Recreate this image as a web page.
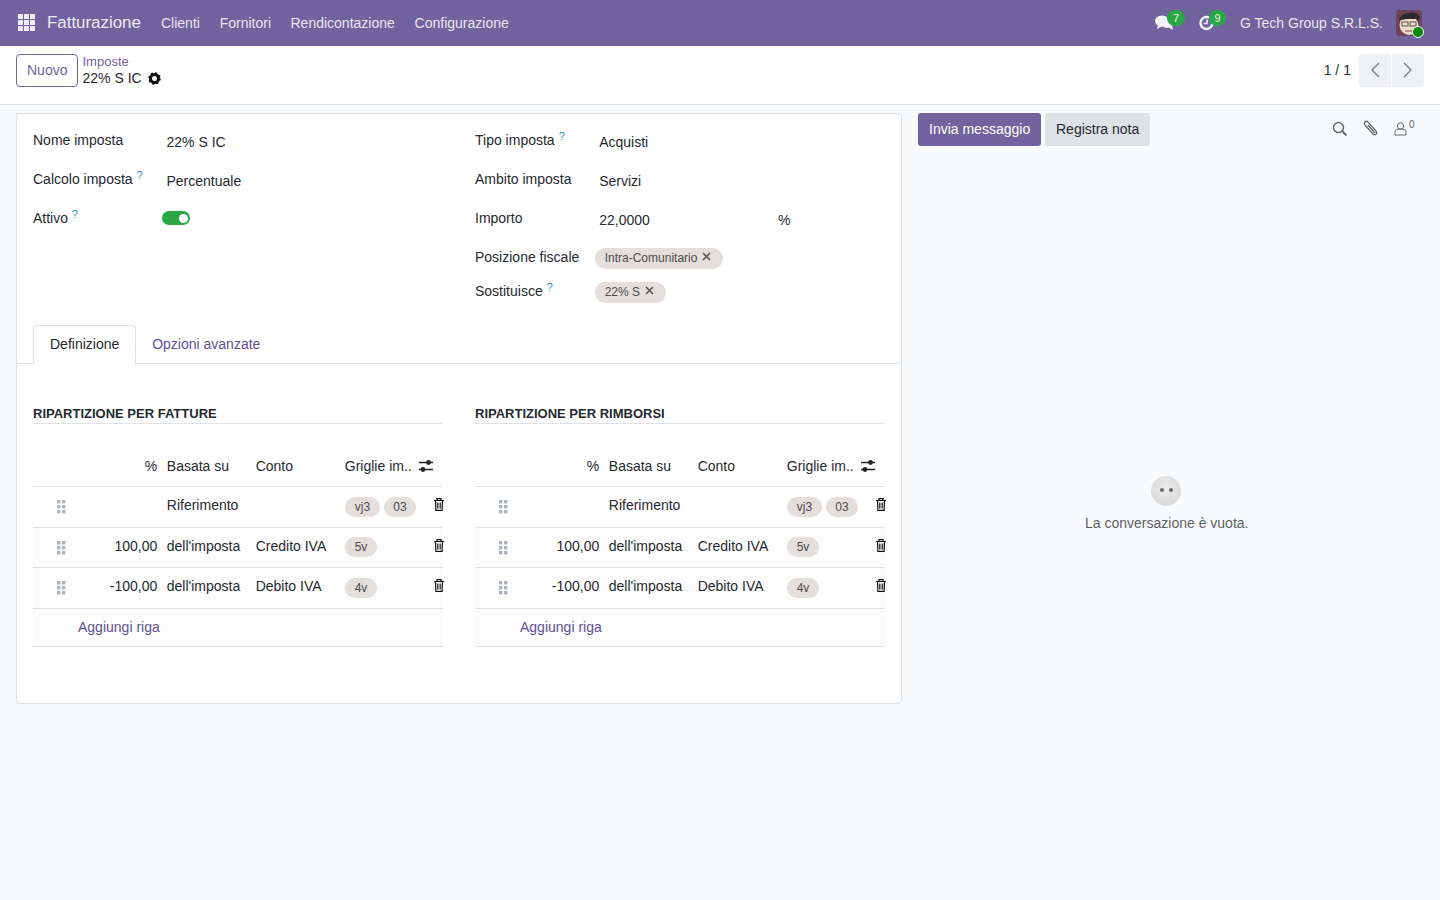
<!DOCTYPE html>
<html lang="it"><head><meta charset="utf-8"><title>Imposte</title>
<script src="https://cdn.jsdelivr.net/npm/chart.js@4"></script>
<style>
html,body{margin:0;padding:0;width:1440px;height:900px;overflow:hidden;background:#f9fafb;font:14px "Liberation Sans",sans-serif;color:#262a2e}
.a{position:absolute;white-space:nowrap;line-height:20px}
.b{position:absolute;box-sizing:border-box}
.pill{position:absolute;background:#e4dedd;border-radius:11px;color:#4c4c4c;font-size:12px;text-align:center;white-space:nowrap}
svg{position:absolute;overflow:visible}
</style></head><body>
<div id="app"></div>
<script>
const menuLabels=["Clienti","Fornitori","Rendicontazione","Configurazione"];
const menuX=[161,219.7,290.5,414.6];
const leftLabels=["Nome imposta","Calcolo imposta","Attivo"];
const leftValues=["22% S IC","Percentuale"];
const rightLabels=["Tipo imposta","Ambito imposta","Importo","Posizione fiscale","Sostituisce"];
const rightValues=["Acquisti","Servizi","22,0000"];
const tableHeads=["%","Basata su","Conto","Griglie im.."];
const percentages=["","100,00","-100,00"];
const bases=["Riferimento","dell'imposta","dell'imposta"];
const accounts=["","Credito IVA","Debito IVA"];
const grids=[["vj3","03"],["5v"],["4v"]];
const sectionTitles=["RIPARTIZIONE PER FATTURE","RIPARTIZIONE PER RIMBORSI"];

const app=document.getElementById('app');
function T(x,cy,s,o={}){const d=document.createElement('div');d.className='a';d.textContent=s;
 d.style.left=x+'px';d.style.top=(cy-10)+'px';
 if(o.right){d.style.left='auto';d.style.right=(1440-x)+'px'}
 if(o.c)d.style.color=o.c;if(o.fs)d.style.fontSize=o.fs+'px';if(o.w)d.style.fontWeight=o.w;app.appendChild(d);return d}
function B(x,y,w,h,st={}){const d=document.createElement('div');d.className='b';
 Object.assign(d.style,{left:x+'px',top:y+'px',width:w+'px',height:h+'px'},st);app.appendChild(d);return d}
function P(x,y,w,h,s,fs){const d=document.createElement('div');d.className='pill';d.textContent=s;
 Object.assign(d.style,{left:x+'px',top:y+'px',width:w+'px',height:h+'px',lineHeight:h+'px'});if(fs)d.style.fontSize=fs+'px';app.appendChild(d);return d}
function S(x,y,w,h,inner){const ns=document.createElement('div');
 ns.innerHTML=`<svg style="left:${x}px;top:${y}px" width="${w}" height="${h}" viewBox="0 0 ${w} ${h}">${inner}</svg>`;app.appendChild(ns.firstChild)}

const PURPLE='#71639e',LINK='#5f5290',ICON='#62666b';
// navbar
B(0,0,1440,46,{background:PURPLE});
let g='';for(let r=0;r<3;r++)for(let c=0;c<3;c++)g+=`<rect x="${c*6}" y="${r*6}" width="5" height="5" fill="#eeecf4"/>`;
S(18,14,17,17,g);
T(47,23,"Fatturazione",{c:'#eeecf4',fs:16.9});
menuLabels.forEach((m,i)=>T(menuX[i],23,m,{c:'#e9e6f1'}));
S(1155,14,19,17,'<ellipse cx="7" cy="7" rx="7" ry="5.5" fill="#f4f3f8"/><path d="M3 11l-1 4 6-3z" fill="#f4f3f8"/><ellipse cx="12" cy="10" rx="5" ry="4" fill="#f4f3f8"/><path d="M13 13l5 3-1-5z" fill="#f4f3f8"/>');
P(1167,10,18,16,"7",11).style.cssText+=';background:#28a745;color:#e8f5ea';
S(1199,15,16,16,'<circle cx="7.5" cy="8" r="6" fill="none" stroke="#f4f3f8" stroke-width="2.4"/><path d="M8 4.5V8.5H4.5" fill="none" stroke="#f4f3f8" stroke-width="1.6"/>');
P(1209,10,17,16,"9",11).style.cssText+=';background:#28a745;color:#e8f5ea';
T(1240,23,"G Tech Group S.R.L.S.",{c:'#e9e6f1'});
S(1396,10,28,29,'<rect width="26" height="26" rx="3" fill="#6e4258"/><ellipse cx="13" cy="15" rx="9.5" ry="10" fill="#f0dccb"/><path d="M3 11C3 2 22 0 24 7l-2 5-2-3-9 0-6 1z" fill="#2c2a2a"/><rect x="6" y="12" width="6" height="4" fill="none" stroke="#555"/><rect x="14" y="12" width="6" height="4" fill="none" stroke="#555"/><path d="M9 21h8" stroke="#8a4040"/><circle cx="22" cy="22" r="5.5" fill="#008a00" stroke="#fff" stroke-width="1"/>');
// control panel
B(0,46,1440,59,{background:'#fff',borderBottom:'1px solid #dee2e6'});
B(16,54,62,33,{border:'1px solid '+PURPLE,borderRadius:'4px',background:'#fff'});
T(27,70,"Nuovo",{c:PURPLE});
T(82.5,62,"Imposte",{c:PURPLE,fs:13});
T(82.5,78,"22% S IC");
S(148,72,13,13,'<circle cx="6.5" cy="6.5" r="4" fill="none" stroke="#111" stroke-width="3"/><circle cx="6.5" cy="6.5" r="5.2" fill="none" stroke="#111" stroke-width="2.2" stroke-dasharray="2 2.08"/>');
T(1323.7,70,"1 / 1");
B(1359,54,32,33,{background:'#eff0f1',borderRadius:'4px 0 0 4px'});
B(1392,54,32,33,{background:'#eff0f1',borderRadius:'0 4px 4px 0'});
S(1370,62,10,16,'<path d="M9 1L2 8l7 7" fill="none" stroke="#767b80" stroke-width="1.3"/>');
S(1403,62,10,16,'<path d="M1 1l7 7-7 7" fill="none" stroke="#767b80" stroke-width="1.3"/>');
// sheet
B(16,113,886,591,{background:'#fff',border:'1px solid #dee2e6',borderRadius:'3px'});
const ly=[140,179,218],ry=[140,179,218,257,291];
leftLabels.forEach((s,i)=>T(33,ly[i],s));
leftValues.forEach((s,i)=>T(166.5,[142,181][i],s));
function help(x,y){T(x,y,"?",{c:'#2a93b5',fs:11})}
help(136.5,175);help(71.7,214);
B(162,211,28,14,{background:'#28a745',borderRadius:'7px'});
B(178.5,214,9,9,{background:'#fff',borderRadius:'50%'});
rightLabels.forEach((s,i)=>T(475,ry[i],s));
rightValues.forEach((s,i)=>T(599.2,[142,181,220][i],s));
help(558.7,136);help(546.7,287);
T(778,220,"%");
B(595,248,128,21,{background:'#e4dedd',borderRadius:'11px'});
T(604.7,258,"Intra-Comunitario",{fs:12,c:'#4c4c4c'});
B(595,282,71,21,{background:'#e4dedd',borderRadius:'11px'});
T(604.7,292,"22% S",{fs:12,c:'#4c4c4c'});
const X='<path d="M1 1l7 7M8 1l-7 7" stroke="#5a5a5a" stroke-width="1.7"/>';
S(702,252,9,9,X);S(645,286,9,9,X);
// tabs
B(17,363,884,1,{background:'#dee2e6'});
B(33,325,103,39,{background:'#fff',border:'1px solid #dee2e6',borderBottom:'none',borderRadius:'3px 3px 0 0'});
T(50,344,"Definizione");
T(152.2,344,"Opzioni avanzate",{c:LINK});
// two tables
[33,475].forEach((ox,k)=>{
 T(ox,413.5,sectionTitles[k],{fs:13,w:700});
 B(ox,423,410,1,{background:'#dee2e6'});
 T(ox+124.3,466,tableHeads[0],{right:true});
 T(ox+133.8,466,tableHeads[1]);T(ox+222.7,466,tableHeads[2]);T(ox+311.8,466,tableHeads[3]);
 S(ox+386,459,14,14,'<path d="M0 3.5h14M0 10.5h14" stroke="#222" stroke-width="1.4"/><circle cx="9.5" cy="3.5" r="2.4" fill="#222"/><circle cx="4" cy="10.5" r="2.4" fill="#222"/>');
 B(ox,486,410,1,{background:'#dee2e6'});
 const top=[487,528,568],cy=[505,546,586],lines=[527,567,608];
 percentages.forEach((_,i)=>{
  if(i>0)B(ox,top[i],410,lines[i]-top[i],{background:'#fcfcfc'});
  B(ox,lines[i],410,1,{background:'#dee2e6'});
  let d='';for(let r=0;r<3;r++)for(let c=0;c<2;c++)d+=`<rect x="${c*5}" y="${r*5}" width="3.4" height="3.4" fill="#adb5bd"/>`;
  S(ox+23.5,cy[i]-5,9,14,d);
  if(percentages[i])T(ox+124.3,cy[i],percentages[i],{right:true});
  T(ox+133.8,cy[i],bases[i]);
  if(accounts[i])T(ox+222.7,cy[i],accounts[i]);
  let px=ox+312;
  grids[i].forEach(v=>{const w=v.length>2?35:32;P(px,cy[i]-9+(i==0?1:0)+(i==2?1:0),w,20,v);px+=w+4});
  S(ox+401,cy[i]-7,10,13,'<path d="M0 2.5h10M3 2.5V.7h4v1.8M1.5 2.5l.4 9.8h6.2l.4-9.8M3.8 4.5v6M6.2 4.5v6" fill="none" stroke="#111" stroke-width="1.2"/>');
 });
 B(ox,609,410,37,{background:'#fcfcfc'});
 B(ox,646,410,1,{background:'#dee2e6'});
 T(ox+45,627,"Aggiungi riga",{c:LINK});
});
// chatter
B(918,113,123,33,{background:PURPLE,borderRadius:'3px'});
T(929,129,"Invia messaggio",{c:'#fff'});
B(1045,113,105,33,{background:'#dee2e6',borderRadius:'3px'});
T(1056,129,"Registra nota",{c:'#262a2e'});
S(1332,121,16,16,`<circle cx="6.5" cy="6.5" r="5" fill="none" stroke="${ICON}" stroke-width="1.4"/><path d="M10 10l4.5 4.5" stroke="${ICON}" stroke-width="1.8"/>`);
S(1363,120,16,17,`<path d="M2 5l8 9c3 2 5-1 3-3L5 2C3 0 0 3 2 5zM5 5l7 8" fill="none" stroke="${ICON}" stroke-width="1.2"/>`);
S(1394,122,13,14,`<circle cx="6.5" cy="4" r="3.2" fill="none" stroke="${ICON}" stroke-width="1"/><path d="M1 13V9.5c0-1.5 2-2.5 5.5-2.5S12 8 12 9.5V13z" fill="none" stroke="${ICON}" stroke-width="1"/>`);
T(1409,124.5,"0",{c:ICON,fs:10});
B(1151,476,30,30,{background:'radial-gradient(circle at 50% 40%,#ececec,#d4d4d4)',borderRadius:'50%'});
B(1160,488,4,4,{background:'#6b6b6b',borderRadius:'50%'});B(1169,488,4,4,{background:'#6b6b6b',borderRadius:'50%'});
T(1085,523,"La conversazione è vuota.",{c:'#5d6166'});
</script>
</body></html>
